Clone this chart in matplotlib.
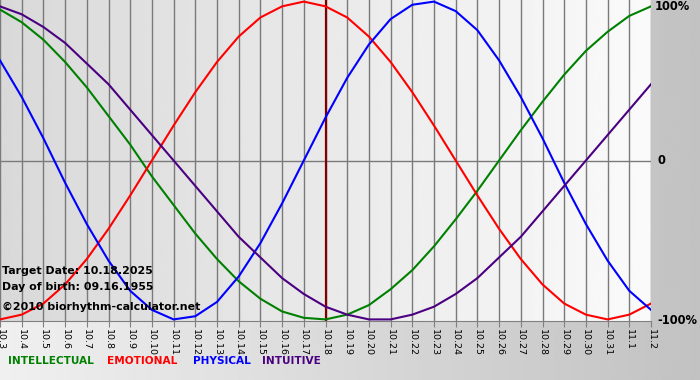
import numpy as np
import matplotlib
matplotlib.use("Agg")
import matplotlib.pyplot as plt

# Days shown (MM.DD)
days = ["10.3", "10.4", "10.5", "10.6", "10.7", "10.8", "10.9", "10.10", "10.11", "10.12",
        "10.13", "10.14", "10.15", "10.16", "10.17", "10.18", "10.19", "10.20", "10.21", "10.22",
        "10.23", "10.24", "10.25", "10.26", "10.27", "10.28", "10.29", "10.30", "10.31", "11.1", "11.2"]
target_day = "10.18"

# Cycle values, -1..1
physical = [0.63, 0.40, 0.14, -0.14, -0.40, -0.63, -0.82, -0.94, -1.00, -0.98,
            -0.89, -0.73, -0.52, -0.27, 0.00, 0.27, 0.52, 0.73, 0.89, 0.98,
            1.00, 0.94, 0.82, 0.63, 0.40, 0.14, -0.14, -0.40, -0.63, -0.82, -0.94]
emotional = [-1.00, -0.97, -0.90, -0.78, -0.62, -0.43, -0.22, 0.00, 0.22, 0.43,
             0.62, 0.78, 0.90, 0.97, 1.00, 0.97, 0.90, 0.78, 0.62, 0.43,
             0.22, 0.00, -0.22, -0.43, -0.62, -0.78, -0.90, -0.97, -1.00, -0.97, -0.90]
intellectual = [0.95, 0.87, 0.76, 0.62, 0.46, 0.28, 0.10, -0.10, -0.28, -0.46,
                -0.62, -0.76, -0.87, -0.95, -0.99, -1.00, -0.97, -0.91, -0.81, -0.69,
                -0.54, -0.37, -0.19, 0.00, 0.19, 0.37, 0.54, 0.69, 0.81, 0.91, 0.97]
intuitive = [0.97, 0.92, 0.84, 0.74, 0.61, 0.48, 0.32, 0.16, 0.00, -0.16,
             -0.32, -0.48, -0.61, -0.74, -0.84, -0.92, -0.97, -1.00, -1.00, -0.97,
             -0.92, -0.84, -0.74, -0.61, -0.48, -0.32, -0.16, 0.00, 0.16, 0.32, 0.48]

series = [("INTELLECTUAL", intellectual, "#008000"),
          ("EMOTIONAL", emotional, "#ff0000"),
          ("PHYSICAL", physical, "#0000ff"),
          ("INTUITIVE", intuitive, "#4b0082")]

W, H = 700, 380
fig = plt.figure(figsize=(W / 100, H / 100), dpi=100)

# background of the whole picture: light on the left, gray on the right
bg = fig.add_axes([0, 0, 1, 1], zorder=0)
gx = np.linspace(0, 1, 256)
grad = np.tile(0.94 - 0.18 * gx, (2, 1))
bg.imshow(grad, cmap="gray", vmin=0, vmax=1, aspect="auto", extent=[0, 1, 0, 1])
bg.axis("off")

x = np.arange(len(days))
ax = fig.add_axes([0, (H - 321) / H, 651 / W, 321 / H], zorder=1)
ax.set_xlim(0, len(days) - 1)
ax.set_ylim(-1.01, 1.01)

# plot area gradient
pgrad = np.tile(0.85 + 0.13 * gx, (2, 1))
ax.imshow(pgrad, cmap="gray", vmin=0, vmax=1, aspect="auto",
          extent=[0, len(days) - 1, -1.01, 1.01], zorder=0)

for xi in x:
    ax.axvline(xi, color="#7a7a7a", lw=1.0, zorder=1)
ax.axhline(0, color="#7a7a7a", lw=1.0, zorder=1)
ax.axvline(days.index(target_day), color="#800000", lw=1.6, zorder=2)

for name, vals, col in series:
    ax.plot(x, vals, color=col, lw=1.5, zorder=3)

ax.set_xticks(x)
ax.set_xticklabels(days, rotation=270, fontsize=6.8)
ax.tick_params(axis="x", length=4, color="#808080", pad=2)
ax.set_yticks([])
for s in ["top", "left", "right"]:
    ax.spines[s].set_visible(False)
ax.spines["bottom"].set_color("#808080")

# right side labels
ax.text(1.005, 0.98, "100%", transform=ax.transAxes, fontsize=8.3, fontweight="bold",
        va="center", ha="left")
ax.text(1.01, 0.5, "0", transform=ax.transAxes, fontsize=8.3, fontweight="bold",
        va="center", ha="left")
ax.text(1.01, 0.0, "-100%", transform=ax.transAxes, fontsize=8.3, fontweight="bold",
        va="center", ha="left")

# info text
info = ["Target Date: 10.18.2025", "Day of birth: 09.16.1955", "\u00a92010 biorhythm-calculator.net"]
for txt, ypx in zip(info, [271, 287, 307]):
    fig.text(2 / W, 1 - ypx / H, txt, fontsize=7.9, fontweight="bold", va="center", ha="left",
             zorder=5)

# legend row
for (name, vals, col), xpx in zip(series, [8, 107, 193, 262]):
    fig.text(xpx / W, 1 - 361 / H, name, color=col, fontsize=7.6, fontweight="bold",
             va="center", ha="left")

fig.savefig("out.png", dpi=100)
